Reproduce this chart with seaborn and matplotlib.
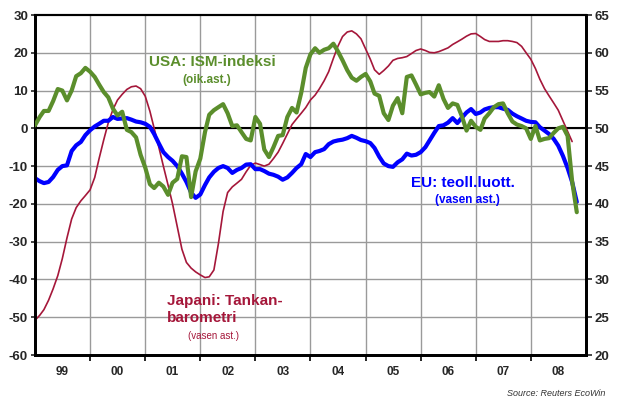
import pandas as pd
import numpy as np
import matplotlib.pyplot as plt
import seaborn as sns

# --- data (monthly, Jan 1999 - Nov 2008) ---
eu_conf = [-13.2, -14.0, -14.5, -14.2, -12.9, -11.0, -10.0, -9.8, -6.0, -4.5, -3.6, -1.8,
           -0.5, 0.5, 1.2, 2.0, 2.0, 3.0, 2.5, 2.6, 2.7, 2.3, 1.8, 1.6,
           1.2, 0.4, -1.5, -4.0, -6.3, -7.6, -8.6, -10.0, -12.0, -14.2, -17.0, -18.4,
           -17.5, -15.0, -13.0, -11.5, -10.5, -10.0, -10.5, -11.8, -11.0, -10.5, -9.6, -9.5,
           -10.8, -10.8, -11.3, -12.0, -12.3, -12.8, -13.6, -13.0, -11.8, -10.5, -9.5, -6.8,
           -7.6, -6.3, -6.0, -5.5, -4.2, -3.5, -3.2, -3.0, -2.6, -2.0, -2.5, -3.1,
           -3.4, -3.9, -5.2, -7.5, -9.3, -10.0, -10.2, -9.0, -8.2, -6.7, -7.2, -7.0,
           -6.3, -5.0, -3.2, -1.2, 0.6, 0.8, 1.5, 2.7, 1.4, 2.8, 4.2, 5.1,
           3.8, 4.2, 5.0, 5.4, 5.6, 5.6, 5.2, 4.9, 3.9, 3.2, 2.6, 2.0,
           1.7, 1.6, 0.3, -0.6, -1.5, -2.8, -4.6, -7.3, -10.5, -14.2, -19.5]

ism = [50.4, 51.5, 52.3, 52.3, 53.6, 55.2, 55.0, 53.7, 55.0, 56.9, 57.3, 58.0,
       57.5, 56.8, 55.8, 54.8, 54.1, 52.6, 51.7, 52.2, 49.8, 49.5, 48.8, 46.5,
       44.8, 42.6, 42.1, 42.8, 42.3, 41.2, 42.8, 43.3, 46.3, 46.2, 40.9, 44.3,
       46.0, 49.5, 51.8, 52.4, 52.8, 53.2, 52.0, 50.3, 50.4, 49.5, 48.6, 48.4,
       51.5, 50.6, 47.2, 46.2, 47.5, 49.0, 49.1, 51.5, 52.7, 52.1, 54.7, 58.0,
       59.8, 60.6, 60.0, 60.4, 60.6, 61.2, 60.2, 59.0, 57.7, 56.7, 56.3, 56.8,
       57.2, 56.2, 54.6, 54.3, 52.0, 51.1, 53.0, 54.0, 52.0, 56.8, 57.0, 55.8,
       54.5, 54.7, 54.8, 54.2, 55.7, 53.9, 52.7, 53.3, 53.1, 51.6, 49.7, 51.0,
       50.2, 49.8, 51.3, 52.0, 52.8, 53.2, 53.3, 52.0, 50.9, 50.5, 50.3, 50.0,
       48.6, 50.3, 48.4, 48.6, 48.7, 49.4, 50.0, 50.2, 49.0, 43.0, 38.9]

tankan = [-50.8, -49.5, -48.0, -45.5, -42.5, -39.0, -34.5, -29.0, -24.0, -21.0, -19.2, -17.8,
          -16.3, -13.0, -8.0, -3.0, 1.5, 5.0, 7.5, 9.0, 10.3, 11.0, 11.2, 10.5,
          8.5, 4.5, 0.0, -5.0, -10.0, -15.0, -20.0, -26.0, -32.0, -35.5, -37.0, -38.0,
          -38.8, -39.5, -39.3, -37.5, -30.5, -22.0, -17.0, -15.5, -14.5, -13.5, -11.5, -9.8,
          -9.2, -9.6, -10.0, -9.5, -8.0, -6.3, -4.0, -1.5, 1.0, 2.5, 4.0, 5.5,
          7.5, 8.8, 10.5, 12.6, 15.0, 18.5, 21.7, 24.3, 25.5, 25.8, 25.0, 23.7,
          21.0, 18.3, 15.5, 14.3, 15.3, 16.5, 18.0, 18.5, 18.7, 19.0, 19.8, 20.6,
          21.0, 20.6, 20.1, 20.0, 20.3, 20.8, 21.3, 22.2, 22.9, 23.6, 24.4, 25.0,
          25.1, 24.3, 23.5, 23.0, 23.0, 23.0, 23.2, 23.2, 23.0, 22.7, 21.7, 20.0,
          18.3, 15.8, 13.0, 10.5, 8.6, 6.7, 4.8, 2.0, -0.8, -3.5, np.nan]

year_labels = ['99', '00', '01', '02', '03', '04', '05', '06', '07', '08']

dates = pd.date_range('1999-01-01', periods=len(eu_conf), freq='MS')
df = pd.DataFrame({'date': dates, 'EU': eu_conf, 'ISM': ism, 'Tankan': tankan})

GREEN = '#5B8E2C'
BLUE = '#0000FF'
RED = '#A5173A'
GRID = '#9A9A9A'

sns.set_style('white')
plt.rcParams['font.family'] = ['Liberation Sans', 'DejaVu Sans']

fig = plt.figure(figsize=(6.18, 4.03), dpi=100)
ax = fig.add_axes([35 / 618, 48 / 403, 551 / 618, 340 / 403])
ax2 = ax.twinx()

# left axis series
sns.lineplot(data=df, x='date', y='Tankan', ax=ax, color=RED, linewidth=1.2, zorder=3)
sns.lineplot(data=df, x='date', y='EU', ax=ax, color=BLUE, linewidth=3, zorder=4)
# right axis series
sns.lineplot(data=df, x='date', y='ISM', ax=ax2, color=GREEN, linewidth=3, zorder=5)

x0 = pd.Timestamp('1999-01-01')
x1 = pd.Timestamp('2009-01-01')
ax.set_xlim(x0, x1)
ax.set_ylim(-60, 30)
ax2.set_ylim(20, 65)

# grid lines
for v in range(-50, 30, 10):
    ax.axhline(v, color=GRID, lw=1, zorder=1)
ax.axhline(0, color='black', lw=1.5, zorder=2)
years = pd.date_range('2000-01-01', '2008-01-01', freq='YS')
for d in years:
    ax.axvline(d, color=GRID, lw=1, zorder=1)

ax.set_yticks(range(-60, 31, 10))
ax2.set_yticks(range(20, 66, 5))
ax.set_yticklabels([str(v) for v in range(-60, 31, 10)], fontsize=9.5, fontweight='bold')
ax2.set_yticklabels([str(v) for v in range(20, 66, 5)], fontsize=9.5, fontweight='bold')

# year ticks at boundaries, labels in the middle
ax.set_xticks(list(years))
ax.set_xticklabels([])
mids = pd.date_range('1999-07-01', '2008-07-01', freq='12MS')
ax.set_xticks(list(mids), minor=True)
ax.set_xticklabels(year_labels, minor=True, fontsize=8.5, fontweight='bold')
ax.tick_params(axis='x', which='major', direction='out', length=4, width=1.2, color='black', bottom=True)
ax.tick_params(axis='x', which='minor', length=0, pad=8)
ax.tick_params(axis='y', left=True, length=3, width=1.2, pad=2)
ax2.tick_params(axis='y', right=True, length=4, width=1.2, pad=2)

ax.set_xlabel('')
ax.set_ylabel('')
ax2.set_xlabel('')
ax2.set_ylabel('')

for a in (ax, ax2):
    for side in ['left', 'right', 'bottom']:
        a.spines[side].set_linewidth(2)
        a.spines[side].set_color('black')
    a.spines['top'].set_linewidth(1.5)
    a.spines['top'].set_color('black')

# annotations
fig.text(212 / 618, 1 - 62 / 403, 'USA: ISM-indeksi', color=GREEN, fontsize=11,
         fontweight='bold', ha='center', va='center')
fig.text(207 / 618, 1 - 80 / 403, '(oik.ast.)', color=GREEN, fontsize=8.5,
         fontweight='bold', ha='center', va='center')
fig.text(463 / 618, 1 - 183 / 403, 'EU: teoll.luott.', color=BLUE, fontsize=11,
         fontweight='bold', ha='center', va='center')
fig.text(467 / 618, 1 - 200 / 403, '(vasen ast.)', color=BLUE, fontsize=8.5,
         fontweight='bold', ha='center', va='center')
fig.text(167 / 618, 1 - 301 / 403, 'Japani: Tankan-', color=RED, fontsize=11,
         fontweight='bold', ha='left', va='center')
fig.text(167 / 618, 1 - 318 / 403, 'barometri', color=RED, fontsize=11,
         fontweight='bold', ha='left', va='center')
fig.text(213 / 618, 1 - 336 / 403, '(vasen ast.)', color=RED, fontsize=7,
         ha='center', va='center')
fig.text(605 / 618, 1 - 394 / 403, 'Source: Reuters EcoWin', color='#333333',
         fontsize=6.5, style='italic', ha='right', va='center')

plt.savefig('out.png', dpi=100)
